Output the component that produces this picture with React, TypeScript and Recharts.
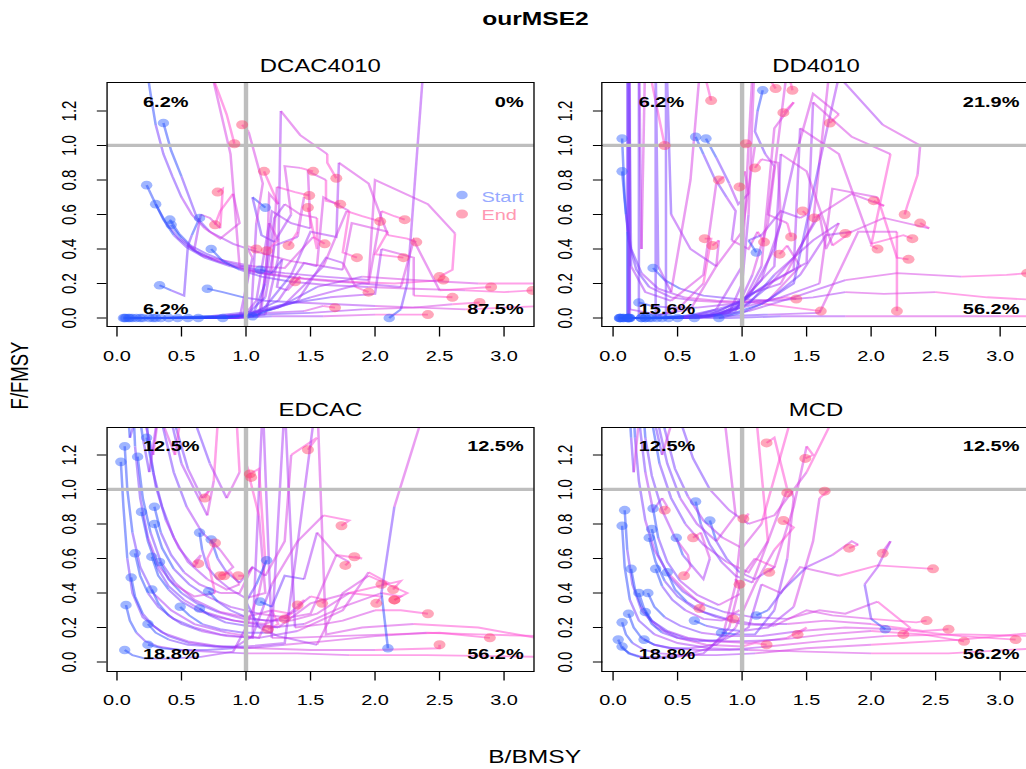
import React from "react";
import { ComposedChart, Line, Scatter, XAxis, YAxis, ReferenceLine } from "recharts";

// ---------- text / labels ----------
const mainTitle = "ourMSE2";
const panelTitles = ["DCAC4010", "DD4010", "EDCAC", "MCD"];
const xLabel = "B/BMSY";
const yLabel = "F/FMSY";
// order: top-left, top-right, bottom-left, bottom-right
const quadrantLabels = [
  ["6.2%", "0%", "6.2%", "87.5%"],
  ["6.2%", "21.9%", "15.6%", "56.2%"],
  ["12.5%", "12.5%", "18.8%", "56.2%"],
  ["12.5%", "12.5%", "18.8%", "56.2%"],
];
const legendItems = ["Start", "End"];
const xTicks = [0, 0.5, 1, 1.5, 2, 2.5, 3];
const yTicks = [0, 0.2, 0.4, 0.6, 0.8, 1, 1.2];

// ---------- trajectories (flat x,y pairs: B/BMSY, F/FMSY) ----------
const dcac4010Traj: number[][] = [
  [0.36,1.13,0.42,0.97,0.50,0.82,0.56,0.70,0.62,0.58,0.72,0.50,0.90,0.43,1.10,0.38,1.35,0.33,1.60,0.30,1.78,0.62,1.90,0.59,2.04,0.56],
  [0.23,0.77,0.30,0.66,0.38,0.55,0.48,0.46,0.60,0.39,0.78,0.33,1.00,0.28,1.20,0.25,1.24,0.76,1.38,0.73,1.49,0.71],
  [0.30,0.66,0.36,0.57,0.44,0.48,0.54,0.41,0.68,0.35,0.88,0.30,1.10,0.26,1.40,0.23,1.70,0.21,1.95,0.20,2.05,0.62,2.15,0.59,2.23,0.57],
  [0.41,0.57,0.48,0.49,0.57,0.42,0.70,0.37,0.87,0.32,1.08,0.28,1.30,0.26,1.60,0.24,1.95,0.22,2.00,0.80,2.41,0.66,2.62,0.49,2.60,0.28,2.50,0.24],
  [0.42,0.54,0.50,0.46,0.61,0.39,0.74,0.34,0.92,0.30,1.15,0.26,1.45,0.23,1.80,0.21,2.15,0.20,2.53,0.22],
  [0.64,0.58,0.58,0.48,0.55,0.42,0.66,0.36,0.85,0.33,1.05,0.30,1.30,0.29,1.52,0.47,1.61,0.43],
  [0.73,0.40,0.82,0.33,0.95,0.28,1.12,0.24,1.35,0.21,1.65,0.19,1.95,0.18,2.30,0.17,2.70,0.16,3.00,0.15,3.22,0.16],
  [1.15,0.64,1.05,0.70,1.12,0.48,1.22,0.44,1.35,0.60,1.30,0.88,1.42,0.87,1.52,0.85],
  [0.33,0.19,0.42,0.16,0.52,0.13,0.55,0.42,0.60,0.40,0.65,0.60,0.72,0.58,0.80,0.52,0.82,0.75,0.78,0.73],
  [1.11,0.28,1.20,0.26,1.28,0.34,1.24,0.18,1.32,0.16,1.42,0.24,1.38,0.21],
  [0.70,0.17,0.82,0.15,0.98,0.12,1.15,0.10,1.40,0.09,1.70,0.08,2.00,0.07,2.35,0.06,2.70,0.05,3.00,0.06,3.30,0.07],
  [0.05,0.00,0.30,0.00,0.60,0.00,0.90,0.00,1.04,0.02,1.08,0.55,1.13,0.78,1.02,1.08,0.97,1.12],
  [0.07,0.00,0.40,0.00,0.75,0.00,0.98,0.01,1.02,0.30,0.95,0.30,0.88,0.95,0.74,1.40,0.85,1.18,0.91,1.01],
  [0.09,0.00,0.45,0.00,0.85,0.00,1.10,0.01,1.16,0.30,1.18,0.72,1.25,0.66,1.14,0.85],
  [0.12,0.00,0.50,0.00,0.90,0.00,1.15,0.02,1.25,0.35,1.27,1.20,1.42,1.06,1.63,0.95,1.63,0.90,1.70,0.81],
  [0.06,0.00,0.35,0.00,0.70,0.00,1.00,0.00,1.12,0.05,1.20,0.62,1.35,0.55,1.50,0.52,1.48,0.85,1.62,0.80,1.62,0.68,1.73,0.66],
  [0.10,0.00,0.45,0.00,0.80,0.00,1.05,0.01,1.15,0.20,1.22,0.58,1.30,0.66,1.42,0.60,1.55,0.58,1.55,0.40,1.48,0.64],
  [0.15,0.00,0.50,0.00,0.88,0.00,1.10,0.02,1.35,0.25,1.50,0.50,1.70,0.47,1.72,0.90,1.95,0.78,2.10,0.48,2.25,0.46,2.32,0.44],
  [0.18,0.00,0.55,0.00,0.95,0.00,1.05,0.35,1.00,0.42,1.08,0.40],
  [0.20,0.00,0.60,0.00,0.98,0.01,1.08,0.10,1.18,0.55,1.25,0.45,1.16,0.39],
  [0.25,0.00,0.62,0.00,1.00,0.02,1.15,0.12,1.22,0.42,1.40,0.47,1.45,0.70,1.40,0.50,1.33,0.42],
  [0.28,0.00,0.70,0.00,1.05,0.03,1.25,0.10,1.45,0.32,1.55,0.30,1.60,0.70,1.80,0.62,1.75,0.38,1.86,0.35],
  [0.30,0.00,0.72,0.01,1.08,0.04,1.30,0.08,1.60,0.30,1.75,0.28,1.82,0.55,2.10,0.50,2.00,0.37,2.22,0.35],
  [0.34,0.00,0.75,0.01,1.10,0.02,1.50,0.03,1.90,0.05,2.30,0.06,2.60,0.08,2.81,0.09],
  [0.40,0.00,0.80,0.01,1.15,0.03,1.45,0.04,1.60,0.07,1.69,0.06],
  [0.47,0.00,0.85,0.00,1.20,0.01,1.60,0.01,2.00,0.02,2.41,0.02],
  [0.55,0.00,0.90,0.01,1.20,0.05,1.50,0.12,1.90,0.20,2.20,0.18,2.30,0.45,2.50,0.16,2.90,0.18],
  [0.63,0.00,0.95,0.01,1.25,0.06,1.55,0.18,1.90,0.24,2.30,0.22,2.80,0.20,3.40,0.20],
  [0.22,1.50,0.26,1.30,0.30,1.12,0.36,0.95,0.43,0.82,0.50,0.70,0.58,0.60,0.68,0.52,0.80,0.46,0.95,0.55,0.90,0.72,0.80,0.62,0.76,0.54],
  [0.82,0.00,1.05,0.02,1.30,0.08,1.65,0.12,2.00,0.14,2.05,0.40,2.30,0.35,2.30,0.13,2.60,0.12],
  [1.05,0.01,1.20,0.05,1.40,0.10,1.62,0.35,1.75,0.32,1.85,0.18,1.95,0.15],
  [2.11,0.00,2.20,0.05,2.25,0.20,2.38,1.50,3.00,2.50,4.50,0.20],
];

const dd4010Traj: number[][] = [
  [0.07,1.04,0.09,0.70,0.12,0.45,0.18,0.28,0.28,0.18,0.45,0.12,0.65,0.10,0.90,0.09,1.15,0.10,1.35,0.12,1.42,0.11],
  [0.07,0.85,0.10,0.60,0.14,0.40,0.22,0.26,0.35,0.17,0.55,0.12,0.80,0.10,1.10,0.09,1.40,0.06,1.61,0.04],
  [0.64,1.05,0.70,0.95,0.78,0.82,0.88,0.70,0.95,0.62,0.92,0.45,1.05,0.40,1.12,0.50,1.17,0.44],
  [0.72,1.04,0.80,0.93,0.90,0.78,0.97,0.66,1.05,0.72,1.02,0.85,0.98,0.76],
  [1.16,1.32,1.12,1.20,1.10,1.08,1.18,0.95,1.25,0.88,1.20,0.60,1.35,0.55,1.38,0.47],
  [0.20,0.09,0.30,0.07,0.45,0.06,0.65,0.06,0.90,0.08,1.20,0.10,1.45,0.30,1.35,0.42,1.29,0.37],
  [0.31,0.29,0.40,0.22,0.52,0.17,0.70,0.13,0.95,0.11,1.25,0.10,1.55,0.12,1.80,0.15,2.10,0.14,2.50,0.15,2.90,0.12,3.40,0.10],
  [1.11,0.38,1.05,0.45,1.15,0.48,1.30,0.62,1.45,0.58,1.50,0.60,1.47,0.62],
  [0.05,0.00,0.11,0.00,0.11,0.50,0.11,1.60,0.12,2.50,0.13,1.20,0.13,0.00,0.30,0.00,0.50,0.05,0.70,0.20,0.76,0.46,0.71,0.46],
  [0.06,0.00,0.12,0.00,0.12,1.80,0.13,0.05,0.35,0.02,0.60,0.05,0.80,0.30,0.82,0.45,0.77,0.42],
  [0.08,0.00,0.12,0.02,0.12,1.70,0.14,0.30,0.25,0.15,0.45,0.10,0.70,0.25,0.80,0.78,0.86,0.82,0.82,0.80],
  [0.11,0.00,0.20,0.00,0.20,1.60,0.22,0.40,0.25,1.55,0.40,1.00],
  [0.12,0.00,0.33,0.00,0.33,1.50,0.35,0.30,0.45,0.15,0.60,0.80,0.68,1.50,0.76,1.26],
  [0.13,0.00,0.41,0.00,0.41,1.60,0.45,0.60,0.60,0.40,0.80,0.30,1.00,0.50,1.10,1.00,1.03,1.01],
  [0.22,0.00,0.45,0.00,0.70,0.01,0.90,0.03,1.00,0.20,1.05,0.60,1.10,1.55,1.20,1.40,1.26,1.33],
  [0.25,0.00,0.50,0.00,0.75,0.01,0.95,0.04,1.08,0.25,1.20,0.55,1.35,1.45,1.39,1.32],
  [0.28,0.00,0.55,0.00,0.80,0.02,1.00,0.08,1.15,0.30,1.25,1.10,1.40,1.25,1.32,1.19],
  [0.30,0.00,0.60,0.00,0.85,0.03,1.05,0.12,1.25,0.40,1.40,0.90,1.55,1.30,1.75,1.18,1.68,1.13],
  [0.34,0.00,0.65,0.00,0.90,0.03,1.10,0.15,1.30,0.20,1.55,0.55,1.70,1.60,1.60,2.00],
  [0.38,0.00,0.70,0.01,0.95,0.05,1.15,0.22,1.30,0.55,1.28,0.90,1.15,0.92,1.10,0.87],
  [0.43,0.00,0.75,0.01,1.00,0.06,1.20,0.18,1.40,0.35,1.60,0.60,1.85,0.72,2.10,0.65,2.02,0.68],
  [0.50,0.00,0.80,0.02,1.05,0.08,1.25,0.25,1.55,0.45,1.75,0.55,1.65,0.40,1.60,0.60,1.56,0.58],
  [0.63,0.00,0.90,0.02,1.15,0.08,1.40,0.20,1.60,0.90,1.75,1.40,2.09,1.12,2.38,1.00,2.36,0.83,2.28,0.65,2.26,0.60],
  [0.82,0.00,1.00,0.03,1.20,0.10,1.45,0.25,1.65,0.48,1.85,0.50,2.10,0.58,2.45,0.52,2.38,0.55],
  [0.05,0.00,0.25,0.00,0.50,0.00,0.75,0.02,1.00,0.10,1.25,0.30,1.30,0.95,1.50,0.85,1.70,0.42,1.85,0.50,1.80,0.49],
  [0.06,0.00,0.30,0.00,0.60,0.01,0.85,0.05,1.10,0.15,1.40,0.28,1.45,1.10,1.75,0.95,2.00,0.43,2.25,0.48,2.32,0.46],
  [0.08,0.00,0.35,0.00,0.65,0.02,0.95,0.08,1.20,0.20,1.50,0.32,1.55,1.25,1.85,1.05,2.15,0.95,2.00,0.42,2.05,0.40],
  [0.11,0.00,0.40,0.00,0.70,0.02,1.00,0.06,1.30,0.12,1.60,0.20,1.70,0.75,2.05,0.70,2.20,0.35,2.29,0.34],
  [0.12,0.00,0.45,0.00,0.75,0.01,1.05,0.04,1.40,0.12,1.80,0.22,2.20,0.26,2.70,0.24,3.05,0.25,3.21,0.26],
  [0.13,0.00,0.50,0.00,0.85,0.01,1.20,0.02,1.60,0.03,1.90,0.50,2.20,0.50,2.20,0.04],
  [0.22,0.00,0.55,0.00,0.90,0.00,1.30,0.01,1.80,0.01,2.40,0.01,3.00,0.01,3.40,0.01],
  [0.25,0.00,0.55,0.01,0.80,0.05,1.00,0.30,1.10,1.70,1.20,2.50],
];

const edcacTraj: number[][] = [
  [0.06,1.25,0.08,1.00,0.12,0.75,0.18,0.55,0.28,0.40,0.42,0.30,0.60,0.22,0.85,0.17,1.10,0.14,1.20,0.30,1.25,0.22,1.17,0.19],
  [0.03,1.16,0.05,0.90,0.08,0.60,0.12,0.40,0.20,0.26,0.35,0.17,0.55,0.12,0.80,0.09,1.10,0.08,1.50,0.07,2.00,0.07,2.50,0.08,2.50,0.10],
  [0.16,1.19,0.20,0.95,0.26,0.75,0.34,0.58,0.45,0.46,0.60,0.36,0.80,0.29,1.00,0.26,1.20,0.30,1.35,0.28,1.30,0.25],
  [0.23,1.30,0.28,1.10,0.35,0.90,0.44,0.72,0.55,0.58,0.70,0.48,0.85,0.42,0.95,0.45,0.88,0.52,0.80,0.50],
  [0.19,0.87,0.24,0.70,0.31,0.55,0.40,0.44,0.52,0.36,0.68,0.29,0.90,0.24,1.15,0.22,1.40,0.30,1.45,0.36,1.40,0.33],
  [0.29,0.90,0.34,0.75,0.42,0.62,0.52,0.52,0.64,0.45,0.80,0.40,0.95,0.40,1.05,0.55,1.00,0.50,0.94,0.50],
  [0.29,0.80,0.35,0.66,0.44,0.54,0.56,0.45,0.70,0.38,0.88,0.32,1.10,0.28,1.30,0.26,1.50,0.38,1.62,0.36,1.59,0.34],
  [0.14,0.63,0.18,0.50,0.24,0.40,0.32,0.32,0.44,0.25,0.60,0.20,0.80,0.16,1.05,0.14,1.13,1.50,1.20,0.14,1.35,0.14,1.70,0.15,2.10,0.16,2.50,0.17,2.89,0.14],
  [0.27,0.61,0.32,0.50,0.40,0.42,0.50,0.35,0.62,0.30,0.78,0.26,0.98,0.23,1.25,0.20,1.50,0.34,1.80,0.40,2.05,0.38,2.01,0.34],
  [0.33,0.58,0.40,0.48,0.50,0.40,0.62,0.34,0.78,0.29,0.98,0.25,1.20,0.24,1.50,0.28,1.70,0.62,1.90,0.60,1.84,0.61],
  [0.11,0.49,0.14,0.38,0.20,0.28,0.28,0.21,0.40,0.15,0.56,0.11,0.76,0.09,1.00,0.08,1.30,0.10,1.60,0.12,2.00,0.15,2.40,0.17,2.80,0.16,3.30,0.15],
  [0.27,0.42,0.32,0.34,0.40,0.27,0.50,0.22,0.65,0.18,0.85,0.15,1.10,0.14,1.40,0.18,1.75,0.30,1.95,0.52,2.10,0.46,2.05,0.45],
  [0.07,0.33,0.10,0.24,0.15,0.17,0.22,0.12,0.32,0.09,0.48,0.07,0.70,0.06,1.00,0.05,1.40,0.05,1.80,0.04,2.40,0.04,3.30,0.03],
  [0.49,0.32,0.56,0.27,0.66,0.22,0.80,0.19,0.98,0.17,1.20,0.17,1.30,1.50,1.38,0.20,1.60,0.22,1.75,0.24,2.00,0.30,2.20,0.30,2.41,0.28],
  [0.64,0.75,0.66,0.65,0.70,0.55,0.78,0.48,0.88,0.42,1.00,0.37,1.15,0.40,1.10,0.85,1.00,1.15,1.04,1.07],
  [0.73,0.71,0.78,0.60,0.85,0.52,0.95,0.46,1.05,0.55,1.15,0.50,1.30,0.70,1.35,1.20,1.55,1.30,1.48,1.23],
  [0.71,0.41,0.78,0.35,0.88,0.30,1.00,0.26,1.15,0.24,1.35,0.24,1.55,0.28,1.80,0.40,2.20,0.47,2.14,0.42],
  [0.64,0.31,0.72,0.27,0.84,0.23,1.00,0.21,1.20,0.20,1.45,0.22,1.75,0.32,2.05,0.40,2.20,0.38,2.15,0.36],
  [0.24,0.22,0.30,0.17,0.40,0.13,0.55,0.10,0.75,0.09,1.00,0.09,1.30,0.11,1.55,1.55,1.62,0.16,1.90,0.20,2.30,0.22,2.80,0.20,3.40,0.12],
  [0.06,0.07,0.12,0.04,0.22,0.02,0.40,0.02,0.65,0.03,0.90,0.06,1.00,0.20,1.10,0.40,1.15,0.58,1.10,1.12,1.03,1.09],
  [0.24,0.10,0.35,0.08,0.50,0.07,0.70,0.07,0.90,0.08,1.05,0.15,1.20,0.45,1.40,0.70,1.60,0.85,1.80,0.82,1.74,0.79],
  [1.11,0.35,1.20,0.32,1.30,0.50,1.45,0.48,1.55,0.75,1.70,0.62,1.80,0.58,1.77,0.56],
  [1.16,0.59,1.08,0.45,1.00,0.35,1.10,0.20,1.25,0.15,1.55,0.10,1.75,0.40,1.95,0.50,2.25,0.40,2.15,0.36],
  [2.10,0.08,2.05,0.40,2.15,0.90,2.40,1.50,2.50,2.00],
  [0.12,1.60,0.14,1.25,0.18,0.95,0.24,0.72,0.32,0.56,0.44,0.45,0.60,0.38,0.76,0.40,0.70,0.60,0.76,0.69],
  [0.20,1.70,0.24,1.30,0.30,1.02,0.38,0.82,0.48,0.66,0.60,0.55,0.65,0.62,0.60,0.58,0.63,0.57],
  [0.30,1.65,0.36,1.35,0.44,1.10,0.54,0.90,0.66,0.75,0.80,0.65,0.90,0.55,0.85,0.52,0.83,0.50],
  [0.40,1.60,0.46,1.35,0.55,1.12,0.66,0.95,0.72,1.00,0.68,0.95],
  [0.08,1.50,0.10,1.30,0.18,1.50,0.28,1.20,0.35,1.60,0.40,1.80],
  [0.15,1.55,0.20,1.30,0.25,1.10,0.32,1.45,0.45,1.20,0.55,1.70],
  [0.35,1.70,0.42,1.40,0.50,1.15,0.60,1.00,0.70,0.85,0.75,1.05,0.80,1.60],
  [0.50,1.70,0.60,1.40,0.72,1.15,0.85,0.95,0.95,1.10,0.92,1.50],
];

const mcdTraj: number[][] = [
  [0.09,0.88,0.11,0.65,0.15,0.45,0.22,0.30,0.34,0.20,0.50,0.14,0.72,0.10,1.00,0.09,1.10,0.11,1.19,0.10],
  [0.07,0.79,0.09,0.55,0.13,0.36,0.20,0.24,0.32,0.16,0.50,0.11,0.75,0.08,1.05,0.07,1.50,0.06,2.00,0.05,2.60,0.05,3.30,0.08],
  [0.31,0.89,0.35,0.72,0.42,0.58,0.52,0.47,0.65,0.39,0.82,0.33,1.00,0.40,0.95,0.48,0.98,0.45],
  [0.30,0.77,0.35,0.62,0.43,0.50,0.54,0.41,0.68,0.34,0.86,0.29,1.08,0.26,1.35,0.25,1.60,0.30,1.80,0.28,2.05,0.35,2.30,0.20,2.25,0.16],
  [0.28,0.72,0.33,0.58,0.40,0.47,0.50,0.38,0.63,0.31,0.80,0.26,1.00,0.22,1.25,0.21,1.50,0.30,1.70,0.27,2.00,0.25,2.35,0.23,2.43,0.24],
  [0.14,0.54,0.17,0.42,0.22,0.32,0.30,0.24,0.42,0.18,0.58,0.14,0.80,0.12,1.05,0.11,1.35,0.14,1.50,0.20,1.43,0.16],
  [0.33,0.54,0.38,0.44,0.46,0.36,0.56,0.30,0.70,0.25,0.85,0.24,0.98,0.30,0.90,0.27,0.93,0.25],
  [0.42,0.52,0.48,0.42,0.57,0.35,0.70,0.29,0.88,0.25,1.10,0.22,1.35,0.22,1.65,0.24,2.00,0.22,2.40,0.18,2.60,0.19],
  [0.20,0.40,0.24,0.31,0.30,0.24,0.40,0.18,0.55,0.14,0.75,0.12,1.00,0.12,1.30,0.13,1.65,0.16,2.00,0.18,2.40,0.16,2.72,0.12],
  [0.27,0.40,0.32,0.32,0.40,0.26,0.52,0.21,0.68,0.17,0.90,0.15,1.15,0.15,1.45,0.18,1.80,0.20,2.20,0.19,2.70,0.15,3.12,0.13],
  [0.12,0.28,0.16,0.20,0.22,0.14,0.32,0.10,0.46,0.08,0.65,0.07,0.90,0.07,1.20,0.09,1.60,0.12,2.10,0.15,2.70,0.16,3.30,0.15],
  [0.25,0.29,0.30,0.22,0.38,0.17,0.50,0.14,0.66,0.12,0.86,0.13,1.05,0.20,1.15,0.45,1.30,0.40,1.45,0.55,1.75,0.50,2.05,0.56,2.48,0.54],
  [0.07,0.23,0.10,0.16,0.15,0.11,0.24,0.07,0.36,0.05,0.55,0.04,0.80,0.04,1.10,0.05,1.50,0.08,2.00,0.10,2.70,0.13,3.40,0.18],
  [0.04,0.13,0.07,0.08,0.13,0.05,0.22,0.03,0.36,0.03,0.55,0.04,0.75,0.08,0.90,0.20,1.00,0.50,1.10,0.60,1.25,0.55,1.21,0.52],
  [0.07,0.09,0.12,0.05,0.20,0.03,0.32,0.02,0.50,0.03,0.70,0.05,0.85,0.15,0.95,0.45,1.00,0.80,1.05,0.86,1.01,0.83],
  [0.24,0.13,0.32,0.10,0.44,0.08,0.60,0.08,0.80,0.10,0.95,0.20,1.10,0.45,1.25,0.65,1.40,0.78,1.32,0.82],
  [0.64,0.93,0.68,0.80,0.75,0.68,0.84,0.58,0.95,0.50,1.08,0.46,1.20,0.70,1.35,1.00,1.25,1.30,1.19,1.27],
  [0.75,0.82,0.80,0.70,0.88,0.60,0.98,0.52,1.10,0.48,1.25,0.55,1.40,0.90,1.50,1.25,1.55,1.20,1.49,1.18],
  [0.63,0.24,0.72,0.21,0.85,0.19,1.00,0.18,1.20,0.20,1.40,0.32,1.55,0.70,1.60,0.95,1.68,1.00,1.64,0.99],
  [0.84,0.17,0.95,0.16,1.10,0.16,1.25,0.30,1.35,0.60,1.40,0.95,1.38,1.00,1.35,0.98],
  [1.11,0.27,1.20,0.30,1.32,0.42,1.50,0.55,1.70,0.62,1.85,0.70,1.90,0.68,1.83,0.66],
  [2.11,0.19,2.00,0.25,1.95,0.45,2.05,0.55,2.15,0.70,2.10,0.65,2.09,0.63],
  [0.49,0.72,0.54,0.62,0.62,0.55,0.70,0.48,0.75,0.60,0.68,0.75,0.62,0.72],
  [0.15,1.60,0.17,1.30,0.20,1.05,0.25,0.82,0.32,0.65,0.42,0.52,0.55,0.42,0.66,0.35,0.70,0.34,0.67,0.31],
  [0.18,1.65,0.21,1.35,0.25,1.10,0.31,0.88,0.38,0.95,0.42,0.90,0.40,0.88],
  [0.22,1.60,0.25,1.30,0.30,1.08,0.38,0.88,0.48,0.72,0.58,0.62,0.60,0.55,0.55,0.50],
  [0.26,1.70,0.30,1.40,0.36,1.15,0.45,0.95,0.56,0.80,0.70,0.68,0.88,0.58,1.05,0.52,1.20,0.70,1.10,1.50,0.90,1.80],
  [0.30,1.65,0.35,1.38,0.42,1.15,0.52,0.95,0.65,0.80,0.80,0.70,0.95,0.85,0.85,1.50,0.80,1.70],
  [0.12,1.55,0.14,1.30,0.16,1.10,0.20,1.40,0.25,1.70],
  [0.35,1.60,0.40,1.35,0.48,1.12,0.58,0.96,0.70,0.82,0.85,0.72,1.00,0.66,1.15,0.80,1.30,1.20,1.45,1.60],
  [0.45,1.70,0.52,1.40,0.62,1.18,0.75,1.00,0.90,0.88,1.05,0.80,1.25,0.85,1.50,1.10,1.70,1.40,1.85,1.65],
  [0.28,1.60,0.32,1.40,0.38,1.20,0.50,1.50,0.60,1.70],
];

const panelData = [dcac4010Traj, dd4010Traj, edcacTraj, mcdTraj];

// ---------- layout & style ----------
const FONT = '"Liberation Sans", Arial, Helvetica, sans-serif';
const SX = 1.33; // horizontal stretch of the reference
const X_DOMAIN: [number, number] = [-0.082, 3.23];
const Y_DOMAIN: [number, number] = [-0.052, 1.362];
const PW = 321.3;
const PH = 244;
const YW = 60;
const XH = 46;
const TM = 4;
const RM = 4;
const panelPos = [
  [80.2, 82.7],
  [452.9, 82.7],
  [80.2, 427.3],
  [452.9, 427.3],
];

const C0 = [40, 70, 255];
const C1 = [150, 50, 255];
const C2 = [255, 70, 210];
function ramp(t: number) {
  const tt = Math.pow(t, 0.75);
  const [a, b, u] = tt < 0.5 ? [C0, C1, tt * 2] : [C1, C2, (tt - 0.5) * 2];
  return `rgb(${a.map((v, i) => Math.round(v + (b[i] - v) * (u as number))).join(",")})`;
}

function toPoints(t: number[]) {
  const pts: { x: number; y: number }[] = [];
  for (let i = 0; i + 1 < t.length; i += 2) pts.push({ x: t[i], y: t[i + 1] });
  return pts;
}

function toSegments(t: number[]) {
  const pts = toPoints(t);
  const nSeg = pts.length - 1;
  const L = 5;
  const out: { lv: number; pts: { x: number; y: number }[] }[] = [];
  let cur: { lv: number; pts: { x: number; y: number }[] } | null = null;
  for (let i = 0; i < nSeg; i++) {
    const tt = nSeg === 1 ? 1 : i / (nSeg - 1);
    const lv = Math.round(tt * (L - 1));
    if (!cur || cur.lv !== lv) {
      cur = { lv, pts: [pts[i]] };
      out.push(cur);
    }
    cur.pts.push(pts[i + 1]);
  }
  return out.map((s) => ({ color: ramp(s.lv / (L - 1)), pts: s.pts }));
}

function dataToPx(p: number, x: number, y: number) {
  const [l, t] = panelPos[p];
  return [
    l + ((x - X_DOMAIN[0]) / (X_DOMAIN[1] - X_DOMAIN[0])) * PW,
    t + ((Y_DOMAIN[1] - y) / (Y_DOMAIN[1] - Y_DOMAIN[0])) * PH,
  ];
}

const YTick = (props: any) => {
  const { y, payload } = props;
  const cx = YW - 27.8;
  return (
    <text
      x={cx}
      y={y}
      transform={`rotate(-90 ${cx} ${y})`}
      textAnchor="middle"
      dominantBaseline="central"
      fontSize={15}
      fontFamily={FONT}
      fill="#000"
    >
      {Number(payload.value).toFixed(1)}
    </text>
  );
};

const StartDot = (p: any) =>
  p.cx == null ? null : <circle cx={p.cx} cy={p.cy} r={4.3} fill="#2b5cff" fillOpacity={0.45} />;
const EndDot = (p: any) =>
  p.cx == null ? null : <circle cx={p.cx} cy={p.cy} r={4.5} fill="#ff3a66" fillOpacity={0.45} />;

function Panel({ index }: { index: number }) {
  const trajs = panelData[index];
  const [pl, pt] = panelPos[index];
  const starts = trajs.map((t) => ({ x: t[0], y: t[1] }));
  const ends = trajs.map((t) => ({ x: t[t.length - 2], y: t[t.length - 1] }));
  const lines: React.ReactNode[] = [];
  trajs.forEach((t, ti) => {
    toSegments(t).forEach((s, si) => {
      lines.push(
        <Line
          key={`l${ti}-${si}`}
          data={s.pts}
          dataKey="y"
          type="linear"
          stroke={s.color}
          strokeWidth={1.9}
          strokeOpacity={0.5}
          dot={false}
          activeDot={false}
          legendType="none"
          isAnimationActive={false}
        />
      );
    });
  });
  return (
    <div style={{ position: "absolute", left: pl - YW, top: pt - TM }}>
      <ComposedChart
        width={YW + PW + RM}
        height={TM + PH + XH}
        margin={{ top: TM, right: RM, left: 0, bottom: 0 }}
      >
        <XAxis
          type="number"
          dataKey="x"
          domain={X_DOMAIN}
          allowDataOverflow
          ticks={xTicks}
          interval={0}
          tickFormatter={(v: number) => v.toFixed(1)}
          tickSize={9.5}
          tickMargin={13.8}
          axisLine={false}
          height={XH}
          stroke="#000"
          tick={{ fontSize: 15, fill: "#000", fontFamily: FONT }}
        />
        <YAxis
          type="number"
          dataKey="y"
          domain={Y_DOMAIN}
          allowDataOverflow
          ticks={yTicks}
          interval={0}
          width={YW}
          tickSize={7.2}
          axisLine={false}
          stroke="#000"
          tick={(p: any) => <YTick {...p} />}
        />
        {lines}
        <Scatter data={starts} dataKey="y" shape={StartDot} isAnimationActive={false} legendType="none" />
        <Scatter data={ends} dataKey="y" shape={EndDot} isAnimationActive={false} legendType="none" />
        <ReferenceLine x={1} stroke="#bebebe" strokeWidth={3.3} />
        <ReferenceLine y={1} stroke="#bebebe" strokeWidth={3.3} />
      </ComposedChart>
      <div
        style={{
          position: "absolute",
          left: YW - 0.5,
          top: TM - 0.5,
          width: PW + 1,
          height: PH + 1,
          border: "1px solid #000",
          boxSizing: "border-box",
          pointerEvents: "none",
        }}
      />
    </div>
  );
}

function Overlay() {
  const texts: React.ReactNode[] = [];
  quadrantLabels.forEach((labs, p) => {
    const spots: [number, number, string][] = [
      [0.2, 1.222, "start"],
      [3.15, 1.222, "end"],
      [0.2, 0.0215, "start"],
      [3.15, 0.0215, "end"],
    ];
    labs.forEach((lab, k) => {
      const [x, y] = dataToPx(p, spots[k][0], spots[k][1]);
      texts.push(
        <text key={`q${p}-${k}`} x={x} y={y} textAnchor={spots[k][2] as any} fontSize={15} fontWeight="bold" fill="#000">
          {lab}
        </text>
      );
    });
    texts.push(
      <text key={`t${p}`} x={panelPos[p][0] + PW / 2} y={panelPos[p][1] - 11} textAnchor="middle" fontSize={18} fill="#000">
        {panelTitles[p]}
      </text>
    );
  });
  const [sdx, sdy] = dataToPx(0, 2.672, 0.711);
  const [edx, edy] = dataToPx(0, 2.672, 0.601);
  const [stx, sty] = dataToPx(0, 2.823, 0.672);
  const [etx, ety] = dataToPx(0, 2.823, 0.566);
  return (
    <svg
      width={780}
      height={769}
      style={{ position: "absolute", left: 0, top: 0, pointerEvents: "none" }}
      fontFamily={FONT}
    >
      <text x={402.6} y={25} textAnchor="middle" fontSize={18.5} fontWeight="bold" fill="#000">
        {mainTitle}
      </text>
      {texts}
      <circle cx={sdx} cy={sdy} r={4.3} fill="#2b5cff" fillOpacity={0.45} />
      <circle cx={edx} cy={edy} r={4.5} fill="#ff3a66" fillOpacity={0.45} />
      <text x={stx} y={sty} fontSize={15} fill="#97aaff">
        {legendItems[0]}
      </text>
      <text x={etx} y={ety} fontSize={15} fill="#ff99b2">
        {legendItems[1]}
      </text>
      <text x={402} y={763} textAnchor="middle" fontSize={18.5} fill="#000">
        {xLabel}
      </text>
      <text
        x={14.8}
        y={375.5}
        transform="rotate(-90 14.8 375.5)"
        textAnchor="middle"
        dominantBaseline="central"
        fontSize={18.5}
        fill="#000"
      >
        {yLabel}
      </text>
    </svg>
  );
}

export default function App() {
  return (
    <div
      style={{
        position: "absolute",
        left: 0,
        top: 0,
        width: 1026,
        height: 769,
        overflow: "hidden",
        background: "#fff",
        fontFamily: FONT,
      }}
    >
      <div
        style={{
          position: "relative",
          width: 780,
          height: 769,
          transform: `scaleX(${SX})`,
          transformOrigin: "0 0",
        }}
      >
        {[0, 1, 2, 3].map((i) => (
          <Panel key={i} index={i} />
        ))}
        <Overlay />
      </div>
    </div>
  );
}
